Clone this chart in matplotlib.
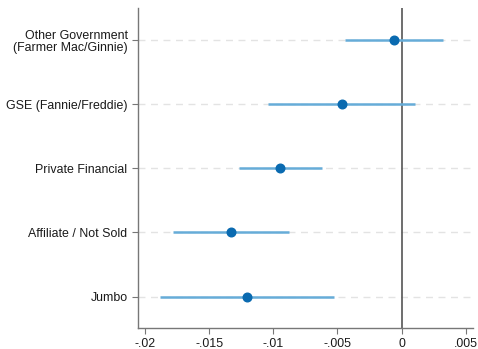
import matplotlib
matplotlib.use("Agg")
import matplotlib.pyplot as plt

plt.rcParams['font.family'] = ['Liberation Sans', 'DejaVu Sans']

# Estimates and 95% confidence bounds, listed bottom to top
categories = ["Jumbo", "Affiliate / Not Sold", "Private Financial",
              "GSE (Fannie/Freddie)", "Other Government\n(Farmer Mac/Ginnie)"]
estimates = [-0.01204, -0.01329, -0.00947, -0.00468, -0.00062]
ci_low = [-0.01885, -0.01782, -0.01269, -0.01040, -0.00442]
ci_high = [-0.00523, -0.00879, -0.00624, 0.00104, 0.00324]
xticks = [-0.02, -0.015, -0.01, -0.005, 0, 0.005]
xtick_labels = ["-.02", "-.015", "-.01", "-.005", "0", ".005"]

fig = plt.figure(figsize=(4.78, 3.49), dpi=100)
ax = fig.add_axes([138/478, 21/349, 335/478, 320/349])

ypos = list(range(1, len(categories) + 1))

for y in ypos:
    ax.axhline(y, color="#e3e3e3", lw=1.0, ls=(0, (5, 4)), zorder=0)

ax.axvline(0, color="#555555", lw=1.2, zorder=1)

ax.hlines(ypos, ci_low, ci_high, color="#66acd8", lw=1.8, zorder=2)
ax.plot(estimates, ypos, "o", color="#0a6ab0", ms=6.2, zorder=3)

ax.set_xlim(-0.02055, 0.00557)
ax.set_ylim(0.51, 5.5)
ax.set_yticks(ypos)
ax.set_yticklabels(categories, fontsize=8.9, color="#1a1a1a", linespacing=1.05)
ax.set_xticks(xticks)
ax.set_xticklabels(xtick_labels, fontsize=8.9, color="#1a1a1a")

for side in ("top", "right"):
    ax.spines[side].set_visible(False)
for side in ("left", "bottom"):
    ax.spines[side].set_color("#777777")
    ax.spines[side].set_linewidth(1.0)
ax.tick_params(axis="both", direction="out", length=4, width=0.8,
               color="#777777", pad=3.5)

fig.savefig("out.png", dpi=100)
